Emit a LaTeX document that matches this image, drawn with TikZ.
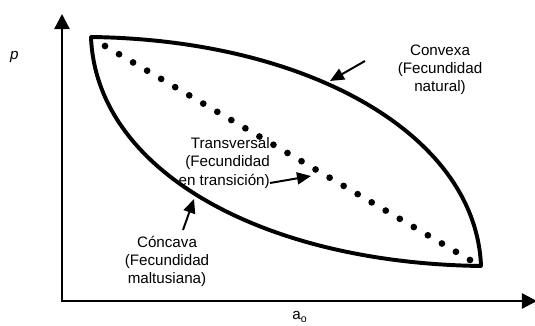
\documentclass[tikz,border=0pt]{standalone}
\usepackage{fontspec}
\setmainfont{Liberation Sans}
\usetikzlibrary{arrows.meta}

\begin{document}
\begin{tikzpicture}[
        axis/.style={line width=1.6pt, line join=miter},
        curve/.style={line width=2.8pt, line cap=round},
        pointer/.style={line width=1.4pt, -{Triangle[length=0.35cm, width=0.3cm]}},
        label/.style={inner sep=0pt, align=center, font=\fontsize{10.8}{13}\selectfont}
    ]
        \useasboundingbox (-1.55, -0.625) rectangle (11.825, 7.525);

        % axes
        \coordinate (origin) at (0, 0);
        \coordinate (ytop) at (0, 7.175);
        \coordinate (xend) at (11.875, 0);
        \draw[axis, {Triangle[length=0.38cm, width=0.38cm]}-{Triangle[length=0.38cm, width=0.38cm]}] (ytop) -- (origin) -- (xend);
        \node[label] (plabel) at (-1.19, 6.1) {\textit{p}};
        \node[label] (alabel) at (5.95, -0.4) {a\textsubscript{o}};

        % curves
        \coordinate (start) at (0.725, 6.6);
        \coordinate (stop) at (10.475, 0.875);
        \draw[curve] (start) .. controls (6.225, 6.525) and (10.35, 4.125) .. (stop);
        \draw[curve] (start) .. controls (0.85, 3.275) and (4.975, 0.95) .. (stop);
        \coordinate (dotstart) at (1.075, 6.375);
        \coordinate (dotstop) at (10.2, 1.025);
        \draw[line width=0.1675cm, line cap=round, dash pattern=on 0pt off 0.4068cm] (dotstart) -- (dotstop);

        % labels
        \node[label] (convexa) at (9.45, 5.775) {Convexa\\(Fecundidad\\natural)};
        \node[label, align=right, anchor=east] (transversal) at (5.2, 3.45) {Transversal\\(Fecundidad\\en transición)};
        \node[label] (concava) at (2.625, 0.99) {Cóncava\\(Fecundidad\\maltusiana)};

        \coordinate (convtail) at (7.575, 6.0);
        \coordinate (convtip) at (6.7, 5.5);
        \coordinate (transtail) at (5.2, 2.95);
        \coordinate (transtip) at (6.225, 3.125);
        \coordinate (conctail) at (3.025, 1.775);
        \coordinate (conctip) at (3.3, 2.55);
        \draw[pointer] (convtail) -- (convtip);
        \draw[pointer] (transtail) -- (transtip);
        \draw[pointer] (conctail) -- (conctip);

    \end{tikzpicture}
\end{document}
